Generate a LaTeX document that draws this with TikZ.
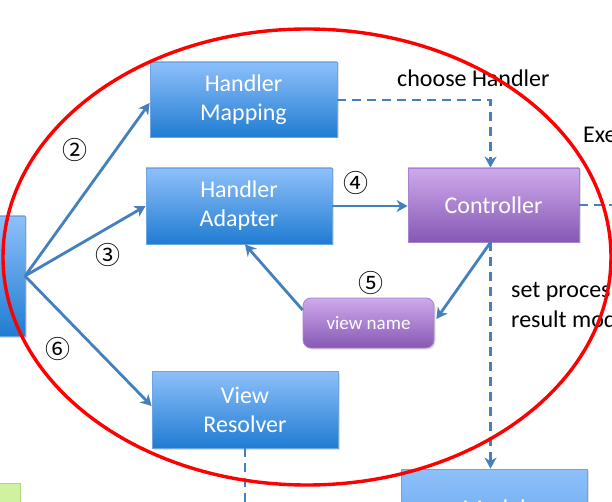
\documentclass[tikz,border=0pt]{standalone}
\usepackage{fontspec}
\setmainfont{Carlito}
\newfontfamily\circfont{Noto Sans CJK JP}
\usetikzlibrary{arrows.meta,shadows}
\definecolor{bluetop}{RGB}{142,192,250}
\definecolor{bluebot}{RGB}{32,124,210}
\definecolor{blueedge}{RGB}{110,165,225}
\definecolor{purtop}{RGB}{206,170,236}
\definecolor{purbot}{RGB}{134,88,180}
\definecolor{puredge}{RGB}{170,130,210}
\definecolor{arrowblue}{RGB}{68,128,190}
\definecolor{greenfill}{RGB}{206,242,160}
\definecolor{greenedge}{RGB}{170,215,120}
\tikzset{
  bluebox/.style={rectangle, draw=blueedge, line width=0.8pt, top color=bluetop, bottom color=bluebot,
    text=white, align=center, font=\fontsize{24}{29}\selectfont, inner sep=0pt,
    drop shadow={opacity=0.25, shadow xshift=1.5pt, shadow yshift=-1.5pt}},
  purbox/.style={rectangle, draw=puredge, line width=0.8pt, top color=purtop, bottom color=purbot,
    text=white, align=center, font=\fontsize{24}{29}\selectfont, inner sep=0pt,
    drop shadow={opacity=0.25, shadow xshift=1.5pt, shadow yshift=-1.5pt}},
  arr/.style={draw=arrowblue, line width=2.8pt, -{Stealth[length=11pt,width=12pt,inset=3.5pt]}},
  dasharr/.style={draw=arrowblue, line width=2.8pt, dash pattern=on 9pt off 6pt, -{Stealth[length=11pt,width=12pt,inset=3.5pt]}},
  dashline/.style={draw=arrowblue, line width=2.8pt, dash pattern=on 9pt off 6pt},
  lbl/.style={font=\fontsize{24}{29}\selectfont, text=black, inner sep=0pt},
  num/.style={font=\circfont\fontsize{25}{25}\selectfont, text=black, inner sep=0pt},
}
\begin{document}
\begin{tikzpicture}[x=1pt,y=-1pt]
\useasboundingbox (0,0) rectangle (612,502);
\clip (0,0) rectangle (612,502);
\fill[white] (0,0) rectangle (612,502);

% boxes
\node[bluebox, minimum width=125pt, minimum height=120pt] (ds) at (-37.5,276) {};
\node[rectangle, draw=greenedge, line width=1pt, fill=greenfill, minimum width=70pt, minimum height=77pt] (gr) at (-15,521.5) {};
\node[bluebox, minimum width=187pt, minimum height=75pt] (hm) at (243.5,99.5) {Handler\\Mapping};
\node[bluebox, minimum width=186pt, minimum height=76pt] (ha) at (239,206) {Handler\\Adapter};
\node[purbox, minimum width=171pt, minimum height=74pt] (ctrl) at (493.5,205) {Controller};
\node[purbox, rounded corners=8pt, minimum width=131pt, minimum height=50pt, font=\fontsize{19}{22}\selectfont] (vn) at (368.5,323) {view name};
\node[bluebox, minimum width=186pt, minimum height=77pt] (vr) at (245,409.5) {View\\Resolver};
\node[bluebox, minimum width=186pt, minimum height=81pt, top color=bluetop, bottom color=bluetop!60!bluebot] (model) at (494,509.5) {};
\node[font=\fontsize{24}{29}\selectfont, text=white, inner sep=0pt] (modeltxt) at (494,508) {Model};

% connectors
\coordinate (src) at (25,276);
\draw[arr] (src) -- ([yshift=-3.5pt]hm.west);
\draw[arr] (src) -- (ha.west);
\draw[arr] (src) -- ([yshift=3.5pt]vr.west);
\draw[arr] (ha.east) -- (ha.east -| ctrl.west);
\coordinate (cb) at ([xshift=-3pt]ctrl.south);
\draw[arr] (cb) -- ([xshift=2pt,yshift=4pt]vn.east);
\draw[arr] ([yshift=13pt]vn.west) -- ([xshift=6pt]ha.south);
\draw[dasharr] ([yshift=-0.5pt]hm.east) -| ([xshift=-3pt]ctrl.north);
\coordinate (cr) at (620,205);
\draw[dashline] (ctrl.east) -- (cr);
\draw[dasharr] (cb) -- (cb |- model.north);
\coordinate (vrb) at (245,515);
\draw[dashline] (vr.south) -- (vrb);

% labels
\node[lbl, anchor=base west] (choose) at (397,87) {choose Handler};
\node[lbl, anchor=base west] (exe) at (583,143) {Exe};
\node[lbl, anchor=base west] (setp) at (511,297) {set proces};
\node[lbl, anchor=base west] (resm) at (511,327) {result mod};
\node[num] (n2) at (75,150) {②};
\node[num] (n3) at (108,255) {③};
\node[num] (n4) at (356,183) {④};
\node[num] (n5) at (371,283) {⑤};
\node[num] (n6) at (58,349) {⑥};

% red ellipse
\draw[red, line width=3.4pt] (307,257) ellipse [x radius=304pt, y radius=228pt];
\end{tikzpicture}
\end{document}
